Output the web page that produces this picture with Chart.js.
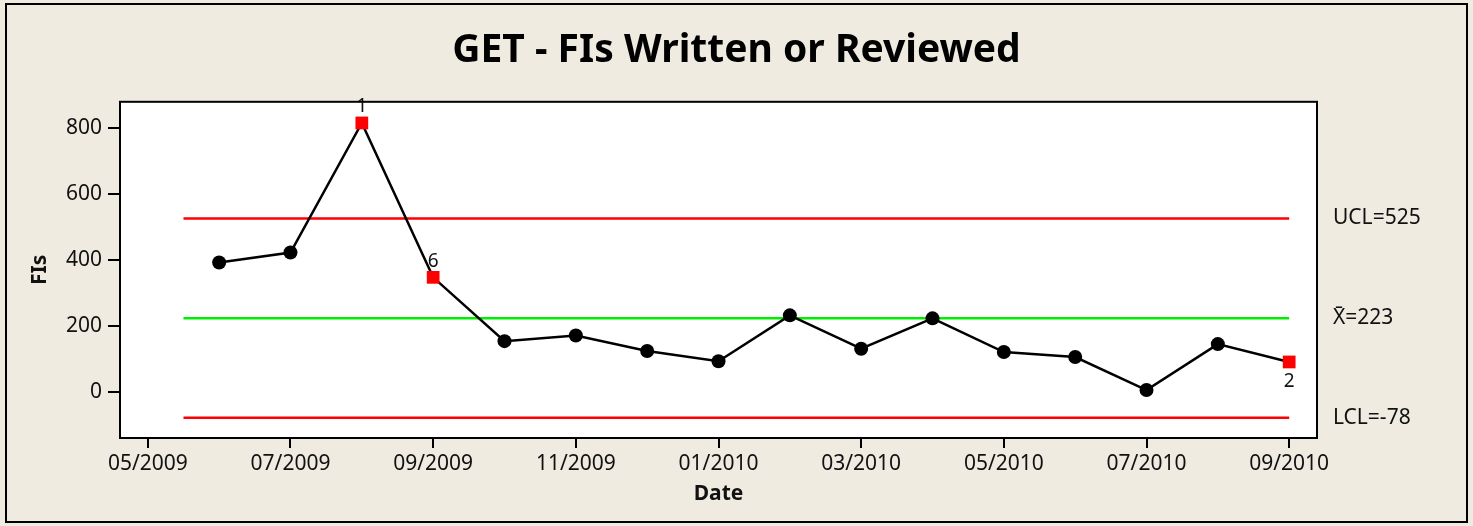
<!DOCTYPE html>
<html>
<head>
<meta charset="utf-8">
<title>GET - FIs Written or Reviewed</title>
<script src="https://cdn.jsdelivr.net/npm/chart.js@4/dist/chart.umd.min.js"></script>
<style>
  html, body { margin: 0; padding: 0; background: #EFEBE1; }
  #wrap { width: 1473px; height: 526px; }
</style>
</head>
<body>
<div id="wrap"><canvas id="chart" width="1473" height="526"></canvas></div>
<script>
// Datos del gráfico de control (I chart)
const months = ['06/2009', '07/2009', '08/2009', '09/2009', '10/2009', '11/2009', '12/2009', '01/2010',
                '02/2010', '03/2010', '04/2010', '05/2010', '06/2010', '07/2010', '08/2010', '09/2010'];
const fisValues = [392, 422, 814, 347, 154, 171, 124, 93, 232, 131, 223, 121, 106, 6, 145, 91];
// puntos fuera de control: etiqueta de la regla violada
const flagLabels = ['', '', '1', '6', '', '', '', '', '', '', '', '', '', '', '', '2'];
const flagBelow = [false, false, false, false, false, false, false, false, false, false, false, false, false, false, false, true];

const xTickLabels = ['05/2009', '07/2009', '09/2009', '11/2009', '01/2010', '03/2010', '05/2010', '07/2010', '09/2010'];
const yTickValues = [0, 200, 400, 600, 800];

const UCL = 525;
const MEAN = 223;
const LCL = -78;
const limitLabels = ['UCL=525', 'X\u0304=223', 'LCL=-78'];

// mes -> índice (meses desde 05/2009)
function monthIndex(label) {
  const [m, y] = label.split('/').map(Number);
  return (y - 2009) * 12 + (m - 5);
}

const points = months.map((m, i) => ({ x: monthIndex(m), y: fisValues[i] }));
const isFlag = flagLabels.map(l => l !== '');

const xStart = monthIndex(months[0]) - 0.5;
const xEnd = monthIndex(months[months.length - 1]);
const limitLine = v => [{ x: xStart, y: v }, { x: xEnd, y: v }];

const FONT = '"Noto Sans", "Open Sans", sans-serif';

// Fondo, marco exterior y área del gráfico
const framePlugin = {
  id: 'frame',
  beforeDraw(chart) {
    const { ctx, chartArea: a, width, height } = chart;
    ctx.save();
    ctx.fillStyle = '#EFEBE1';
    ctx.fillRect(0, 0, width, height);
    ctx.strokeStyle = '#000';
    ctx.lineWidth = 2;
    ctx.strokeRect(6, 4, width - 12, height - 8);
    ctx.fillStyle = '#fff';
    ctx.fillRect(a.left, a.top, a.right - a.left, a.bottom - a.top);
    ctx.restore();
  },
  afterDraw(chart) {
    const { ctx, chartArea: a } = chart;
    ctx.save();
    ctx.strokeStyle = '#000';
    ctx.lineWidth = 2;
    ctx.strokeRect(a.left, a.top, a.right - a.left, a.bottom - a.top);
    ctx.restore();
  }
};

// Etiquetas de puntos fuera de control
const flagPlugin = {
  id: 'flags',
  afterDatasetsDraw(chart) {
    const { ctx } = chart;
    const meta = chart.getDatasetMeta(0);
    ctx.save();
    ctx.font = '19px ' + FONT;
    ctx.fillStyle = '#111';
    ctx.textAlign = 'center';
    ctx.textBaseline = 'middle';
    meta.data.forEach((pt, i) => {
      if (!flagLabels[i]) return;
      const dy = flagBelow[i] ? 20 : -16;
      ctx.fillText(flagLabels[i], pt.x, pt.y + dy);
    });
    ctx.restore();
  }
};

const ctx = document.getElementById('chart').getContext('2d');
new Chart(ctx, {
  type: 'scatter',
  data: {
    datasets: [
      {
        type: 'line',
        label: 'FIs',
        data: points,
        borderColor: '#000',
        borderWidth: 2.5,
        tension: 0,
        pointStyle: isFlag.map(f => f ? 'rect' : 'circle'),
        pointRadius: isFlag.map(f => f ? 9 : 7),
        pointBackgroundColor: isFlag.map(f => f ? '#FF0000' : '#000'),
        pointBorderWidth: 0,
        clip: false
      },
      {
        type: 'line',
        label: 'UCL',
        data: limitLine(UCL),
        borderColor: '#FF0000',
        borderWidth: 2.5,
        pointRadius: 0
      },
      {
        type: 'line',
        label: 'Mean',
        data: limitLine(MEAN),
        borderColor: '#00EE00',
        borderWidth: 2.5,
        pointRadius: 0
      },
      {
        type: 'line',
        label: 'LCL',
        data: limitLine(LCL),
        borderColor: '#FF0000',
        borderWidth: 2.5,
        pointRadius: 0
      }
    ]
  },
  options: {
    responsive: false,
    animation: false,
    events: [],
    layout: { padding: { left: 5, right: 5, top: 0, bottom: 0 } },
    plugins: {
      legend: { display: false },
      tooltip: { enabled: false },
      title: {
        display: true,
        text: 'GET - FIs Written or Reviewed',
        color: '#000',
        font: { family: FONT, size: 39, weight: 'bold' },
        padding: { top: 27, bottom: 28 }
      }
    },
    scales: {
      x: {
        type: 'linear',
        min: -0.39,
        max: 16.39,
        afterBuildTicks: scale => {
          scale.ticks = xTickLabels.map(l => ({ value: monthIndex(l) }));
        },
        afterFit: scale => { scale.height = 88; },
        ticks: {
          color: '#111',
          font: { family: FONT, size: 21 },
          padding: 3,
          maxRotation: 0,
          autoSkip: false,
          callback: value => xTickLabels.find(l => monthIndex(l) === value) || ''
        },
        grid: { drawOnChartArea: false, drawTicks: true, tickLength: 10, color: '#000', lineWidth: 2 },
        border: { display: true, color: '#000', width: 2 },
        title: {
          display: true,
          text: 'Date',
          color: '#111',
          font: { family: FONT, size: 21, weight: 'bold' },
          padding: { top: 0, bottom: 19 }
        }
      },
      y: {
        position: 'left',
        min: -139,
        max: 878,
        afterBuildTicks: scale => {
          scale.ticks = yTickValues.map(v => ({ value: v }));
        },
        afterFit: scale => { scale.width = 115; },
        ticks: {
          color: '#111',
          font: { family: FONT, size: 21 },
          padding: 6
        },
        grid: { drawOnChartArea: false, drawTicks: true, tickLength: 12, color: '#000', lineWidth: 2 },
        border: { display: true, color: '#000', width: 2 },
        title: {
          display: true,
          text: 'FIs',
          color: '#111',
          font: { family: FONT, size: 21, weight: 'bold' },
          padding: { top: 22, bottom: 0 }
        }
      },
      y2: {
        position: 'right',
        min: -139,
        max: 878,
        afterBuildTicks: scale => {
          scale.ticks = [UCL, MEAN, LCL].map(v => ({ value: v }));
        },
        afterFit: scale => { scale.width = 151; },
        ticks: {
          color: '#111',
          font: { family: FONT, size: 21 },
          padding: 16,
          callback: (value, i) => limitLabels[i]
        },
        grid: { display: false, drawTicks: false },
        border: { display: false }
      }
    }
  },
  plugins: [framePlugin, flagPlugin]
});
</script>
</body>
</html>
